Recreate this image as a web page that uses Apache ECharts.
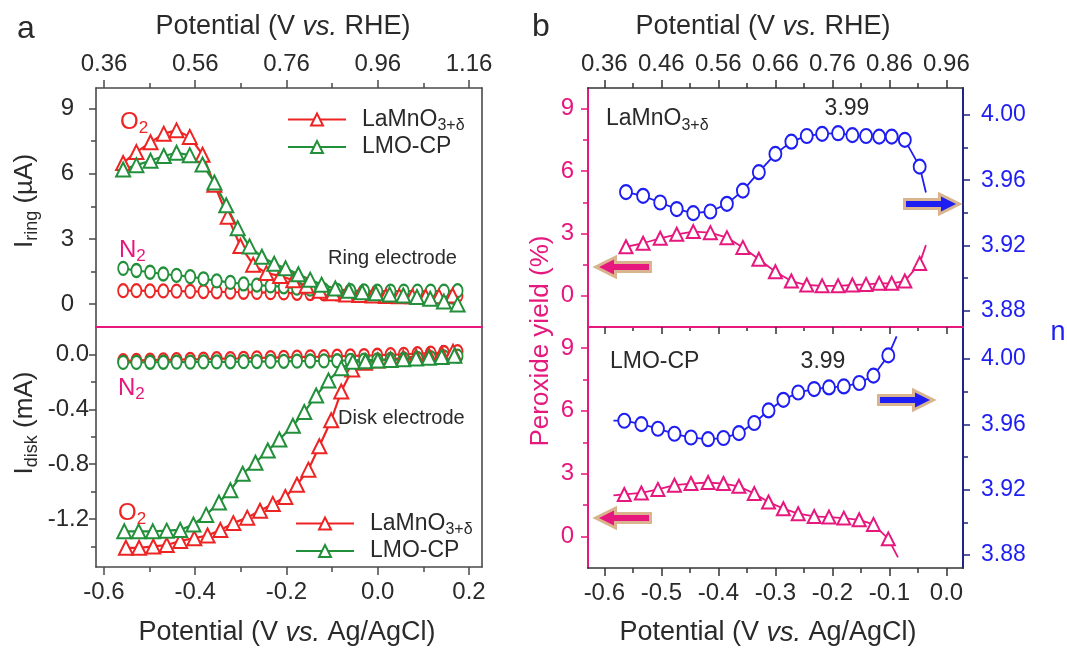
<!DOCTYPE html>
<html><head><meta charset="utf-8">
<script src="https://cdn.jsdelivr.net/npm/echarts@6/dist/echarts.min.js"></script>
<style>html,body{margin:0;padding:0;background:#fff}#c{width:1067px;height:650px}</style>
</head><body><div id="c"></div>
<script>
// ---------------- DATA (potential in V vs. Ag/AgCl) ----------------
// Panel a, ring electrode
const ringTriX_LMO = [-0.558,-0.529,-0.498,-0.469,-0.441,-0.412,-0.384,-0.358,-0.329,-0.301,-0.273,-0.244,-0.214,-0.185,-0.156,-0.127,-0.098,-0.069,-0.040,-0.011,0.018,0.047,0.076,0.105,0.134,0.164];
const ringO2_LMO   = [6.5,7.0,7.45,7.85,8.0,7.7,6.88,5.5,4.03,2.68,1.82,1.43,1.3,1.1,0.85,0.62,0.5,0.45,0.42,0.4,0.38,0.37,0.36,0.35,0.36,0.4];
const ringTriX_CP  = [-0.558,-0.529,-0.498,-0.469,-0.441,-0.412,-0.384,-0.358,-0.332,-0.307,-0.281,-0.254,-0.227,-0.202,-0.174,-0.148,-0.123,-0.093,-0.063,-0.034,-0.004,0.026,0.056,0.086,0.115,0.145,0.175];
const ringO2_CP    = [6.2,6.4,6.6,6.82,6.97,6.86,6.43,5.6,4.55,3.5,2.66,2.18,1.86,1.65,1.38,1.13,0.9,0.72,0.62,0.55,0.5,0.45,0.4,0.33,0.25,0.12,-0.02];
const lsvX         = [-0.558,-0.529,-0.499,-0.470,-0.441,-0.411,-0.382,-0.353,-0.323,-0.294,-0.265,-0.235,-0.206,-0.177,-0.148,-0.118,-0.089,-0.060,-0.030,-0.001,0.028,0.057,0.087,0.116,0.145,0.175];
const ringN2_LMO   = [0.62,0.62,0.61,0.61,0.60,0.59,0.58,0.57,0.56,0.55,0.54,0.53,0.52,0.50,0.49,0.48,0.47,0.46,0.45,0.44,0.43,0.42,0.41,0.41,0.40,0.40];
const ringN2_CP    = [1.65,1.55,1.47,1.39,1.33,1.27,1.17,1.07,1.0,0.93,0.88,0.84,0.8,0.74,0.69,0.66,0.63,0.62,0.61,0.6,0.6,0.6,0.6,0.6,0.6,0.62];
// Panel a, disk electrode
const diskTriX_LMO = [-0.552,-0.523,-0.492,-0.4625,-0.433,-0.402,-0.373,-0.345,-0.3165,-0.286,-0.258,-0.230,-0.2025,-0.177,-0.152,-0.128,-0.102,-0.080,-0.056,-0.028,0.0,0.028,0.056,0.084,0.112,0.140,0.165];
const diskO2_LMO   = [-1.41,-1.41,-1.40,-1.39,-1.36,-1.34,-1.32,-1.28,-1.23,-1.19,-1.14,-1.09,-1.04,-0.95,-0.84,-0.67,-0.48,-0.27,-0.11,-0.06,-0.045,-0.035,-0.025,-0.015,-0.005,0.005,0.02];
const diskTriX_CP  = [-0.5555,-0.524,-0.493,-0.4625,-0.433,-0.404,-0.376,-0.348,-0.323,-0.296,-0.268,-0.241,-0.2156,-0.186,-0.161,-0.135,-0.108,-0.080,-0.0546,-0.027,0.0,0.028,0.056,0.084,0.112,0.140,0.168];
const diskO2_CP    = [-1.29,-1.29,-1.29,-1.285,-1.28,-1.24,-1.17,-1.08,-0.99,-0.87,-0.79,-0.70,-0.62,-0.52,-0.42,-0.30,-0.19,-0.10,-0.054,-0.05,-0.045,-0.04,-0.035,-0.03,-0.025,-0.018,-0.01];
const diskN2_LMO   = [-0.046,-0.044,-0.042,-0.04,-0.038,-0.036,-0.034,-0.031,-0.03,-0.028,-0.025,-0.024,-0.022,-0.02,-0.018,-0.016,-0.013,-0.011,-0.008,-0.006,-0.002,0.001,0.006,0.01,0.014,0.02];
const diskN2_CP    = [-0.058,-0.058,-0.057,-0.057,-0.056,-0.056,-0.055,-0.055,-0.054,-0.053,-0.052,-0.051,-0.05,-0.049,-0.048,-0.047,-0.046,-0.044,-0.042,-0.04,-0.036,-0.032,-0.028,-0.024,-0.018,-0.012];
// Panel b, LaMnO3+δ (markers) + curve tail
const bX_LMO       = [-0.562,-0.532,-0.502,-0.473,-0.444,-0.414,-0.385,-0.357,-0.329,-0.300,-0.272,-0.245,-0.218,-0.190,-0.165,-0.141,-0.118,-0.096,-0.073,-0.047];
const perox_LMO    = [2.36,2.53,2.77,2.96,3.09,3.04,2.80,2.33,1.76,1.16,0.71,0.52,0.48,0.48,0.52,0.55,0.60,0.60,0.71,1.56];
const n_LMO        = [3.9527,3.9504,3.9463,3.9423,3.9398,3.9408,3.9455,3.9536,3.9649,3.9761,3.9836,3.9871,3.9884,3.9888,3.9876,3.9871,3.9867,3.9867,3.9847,3.9683];
const peroxTail_LMO = [-0.036, 2.44];
const nTail_LMO     = [-0.036, 3.9524];
// Panel b, LMO-CP
const bX_CP        = [-0.565,-0.535,-0.506,-0.477,-0.448,-0.418,-0.391,-0.364,-0.337,-0.312,-0.286,-0.260,-0.232,-0.206,-0.180,-0.153,-0.128,-0.102];
const perox_CP     = [2.01,2.08,2.25,2.45,2.53,2.58,2.53,2.40,2.05,1.65,1.33,1.09,0.96,0.93,0.88,0.80,0.58,-0.11];
const n_CP         = [3.9622,3.9601,3.9573,3.9542,3.9519,3.9509,3.9516,3.9546,3.9608,3.9685,3.9750,3.9795,3.9816,3.9826,3.9832,3.9853,3.9898,4.0022];
const peroxHead_CP = [-0.584, 1.97];
const peroxTail_CP = [-0.085, -0.99];
const nHead_CP     = [-0.584, 3.9623];
const nTail_CP     = [-0.0874, 4.0139];
// Tick values
const aXMajor = [-0.6,-0.4,-0.2,0.0,0.2];
const aXMinor = [-0.5,-0.3,-0.1,0.1];
const aRingMajor = [0,3,6,9];
const aRingMinor = [1.5,4.5,7.5];
const aDiskMajor = [0.0,-0.4,-0.8,-1.2];
const aDiskMinor = [-0.2,-0.6,-1.0,-1.4];
const bXMajor = [-0.6,-0.5,-0.4,-0.3,-0.2,-0.1,0.0];
const bXMinor = [-0.55,-0.45,-0.35,-0.25,-0.15,-0.05];
const bPMajor = [0,3,6,9];
const bPMinor = [1.5,4.5,7.5];
const bNMajor = [3.88,3.92,3.96,4.00];
const bNMinor = [3.90,3.94,3.98];
const RHE_OFFSET = 0.96;

// ---------------- STYLE ----------------
const FONT = 'Liberation Sans, Arial, Helvetica, sans-serif';
const RED = '#EE2424', GREEN = '#22903A', PINK = '#E6177D', BLUE = '#1E1EF2', NAVY = '#1E2585', GRAY = '#4a4a4a', TXT = '#2a2a2a';
const TAN = '#D9B48E';
const FS = 24;

function ax(grid, pos, o) {
  return {
    type: 'value', gridIndex: grid, position: pos, min: o.min, max: o.max, scale: true,
    axisLine: {show: !!o.line, onZero: false, lineStyle: {color: o.line || '#000', width: o.lw || 1.6}},
    axisTick: {show: !!o.ticks, inside: false, length: o.tl || 7, customValues: o.ticks, lineStyle: {color: o.tc || GRAY, width: 1.5}},
    axisLabel: {show: !!o.labels, customValues: o.labels, formatter: o.fmt, margin: o.margin || 8, color: o.lc || TXT, fontSize: o.fs || FS, fontFamily: FONT, showMinLabel: true, showMaxLabel: true},
    splitLine: {show: false}, minorTick: {show: false}, minorSplitLine: {show: false},
    axisPointer: {show: false}, silent: true, z: o.z || 3
  };
}
const fRHE = v => (v + RHE_OFFSET).toFixed(2);
const f1 = v => (Math.abs(v) < 1e-9 ? 0 : v).toFixed(1);
const f2 = v => v.toFixed(2);
const f0 = v => String(Math.round(v));

const A_X = {min: -0.6175, max: 0.2285};
const B_X = {min: -0.6286, max: 0.029};
const RING_Y = {min: -1.05, max: 9.95};
const DISK_Y = {min: -1.55, max: 0.2};
const BP_Y = {min: -1.5, max: 10};
const BN_TOP = {min: 3.87, max: 4.0165};
const BN_BOT = {min: 3.872, max: 4.0196};

const xAxis = [
  // g0 (a-top)
  ax(0, 'top', {...A_X, line: GRAY, ticks: aXMajor, tl: 8, labels: aXMajor, fmt: fRHE, margin: 12}),        //0
  ax(0, 'top', {...A_X, ticks: aXMinor, tl: 5}),                                                             //1
  ax(0, 'bottom', {...A_X, line: PINK, lw: 2, z: 6}),                                                        //2
  // g1 (a-bottom)
  ax(1, 'bottom', {...A_X, line: GRAY, ticks: aXMajor, tl: 8, labels: aXMajor, fmt: f1, margin: 13}),       //3
  ax(1, 'bottom', {...A_X, ticks: aXMinor, tl: 5}),                                                          //4
  // g2 (b-top)
  ax(2, 'top', {...B_X, line: '#333', ticks: bXMajor, tc: '#333', tl: 8, labels: bXMajor, fmt: fRHE, margin: 12}), //5
  ax(2, 'top', {...B_X, ticks: bXMinor, tc: '#333', tl: 5}),                                                 //6
  ax(2, 'bottom', {...B_X, line: PINK, lw: 2, ticks: bXMajor, tc: '#333', tl: 7, z: 6}),                     //7
  ax(2, 'bottom', {...B_X, ticks: bXMinor, tc: '#333', tl: 4}),                                              //8
  // g3 (b-bottom)
  ax(3, 'bottom', {...B_X, line: '#333', ticks: bXMajor, tc: '#333', tl: 8, labels: bXMajor, fmt: f1, margin: 13}), //9
  ax(3, 'bottom', {...B_X, ticks: bXMinor, tc: '#333', tl: 5})                                               //10
];
const yAxis = [
  ax(0, 'left', {...RING_Y, line: GRAY, ticks: aRingMajor, tl: 7, labels: aRingMajor, fmt: f0, margin: 22}), //0
  ax(0, 'left', {...RING_Y, ticks: aRingMinor, tl: 5}),                                                      //1
  ax(0, 'right', {...RING_Y, line: GRAY}),                                                                   //2
  ax(1, 'left', {...DISK_Y, line: GRAY, ticks: aDiskMajor, tl: 7, labels: aDiskMajor, fmt: f1, margin: 7}),  //3
  ax(1, 'left', {...DISK_Y, ticks: aDiskMinor, tl: 5}),                                                      //4
  ax(1, 'right', {...DISK_Y, line: GRAY}),                                                                   //5
  ax(2, 'left', {...BP_Y, line: PINK, lw: 2, ticks: bPMajor, tc: PINK, tl: 7, labels: bPMajor, fmt: f0, lc: PINK, margin: 14}), //6
  ax(2, 'left', {...BP_Y, ticks: bPMinor, tc: PINK, tl: 5}),                                                 //7
  ax(2, 'right', {...BN_TOP, line: NAVY, lw: 2, ticks: bNMajor, tc: NAVY, tl: 7, labels: bNMajor, fmt: f2, lc: BLUE, margin: 18, fs: 23}), //8
  ax(2, 'right', {...BN_TOP, ticks: bNMinor, tc: NAVY, tl: 5}),                                              //9
  ax(3, 'left', {...BP_Y, line: PINK, lw: 2, ticks: bPMajor, tc: PINK, tl: 7, labels: bPMajor, fmt: f0, lc: PINK, margin: 14}), //10
  ax(3, 'left', {...BP_Y, ticks: bPMinor, tc: PINK, tl: 5}),                                                 //11
  ax(3, 'right', {...BN_BOT, line: NAVY, lw: 2, ticks: bNMajor, tc: NAVY, tl: 7, labels: bNMajor, fmt: f2, lc: BLUE, margin: 18, fs: 23}), //12
  ax(3, 'right', {...BN_BOT, ticks: bNMinor, tc: NAVY, tl: 5})                                               //13
];

function pairs(xs, ys) { return xs.map((x, i) => [x, ys[i]]); }
function plain(pt) { return {value: pt, symbol: 'none'}; }
function ser(name, xi, yi, data, color, symbol, size, lw) {
  return {
    type: 'line', name, xAxisIndex: xi, yAxisIndex: yi, data,
    symbol, symbolSize: size, showSymbol: true, clip: true,
    lineStyle: {color, width: lw || 2.2}, itemStyle: {color, borderColor: color, borderWidth: 2.2},
    emphasis: {disabled: true}, silent: true, z: 4
  };
}
const LMO = 'LaMnO3+δ', CP = 'LMO-CP';
const TRI = 14, CIRC = [10, 13];
const series = [
  // a ring
  ser('ringN2_LMO', 0, 0, pairs(lsvX, ringN2_LMO), RED, 'emptyCircle', CIRC),
  ser('ringN2_CP', 0, 0, pairs(lsvX, ringN2_CP), GREEN, 'emptyCircle', CIRC),
  ser(LMO, 0, 0, pairs(ringTriX_LMO, ringO2_LMO), RED, 'emptyTriangle', TRI),
  ser(CP, 0, 0, pairs(ringTriX_CP, ringO2_CP), GREEN, 'emptyTriangle', TRI),
  // a disk
  ser('diskN2_LMO', 3, 3, pairs(lsvX, diskN2_LMO), RED, 'emptyCircle', CIRC),
  ser('diskN2_CP', 3, 3, pairs(lsvX, diskN2_CP), GREEN, 'emptyCircle', CIRC),
  ser(LMO, 3, 3, pairs(diskTriX_LMO, diskO2_LMO), RED, 'emptyTriangle', TRI),
  ser(CP, 3, 3, pairs(diskTriX_CP, diskO2_CP), GREEN, 'emptyTriangle', TRI),
  // b top
  ser('perox_LMO', 5, 6, pairs(bX_LMO, perox_LMO).concat([plain(peroxTail_LMO)]), PINK, 'emptyTriangle', 13, 1.8),
  ser('n_LMO', 5, 8, pairs(bX_LMO, n_LMO).concat([plain(nTail_LMO)]), BLUE, 'emptyCircle', [12, 14], 1.8),
  // b bottom
  ser('perox_CP', 9, 10, [plain(peroxHead_CP)].concat(pairs(bX_CP, perox_CP), [plain(peroxTail_CP)]), PINK, 'emptyTriangle', 13, 1.8),
  ser('n_CP', 9, 12, [plain(nHead_CP)].concat(pairs(bX_CP, n_CP), [plain(nTail_CP)]), BLUE, 'emptyCircle', [12, 14], 1.8)
];

function legendFmt(name) { return name === LMO ? '{s|}{a|LaMnO}{b|3+δ}' : '{s|}{a|LMO-CP}'; }
const legendRich = {
  s: {width: 11},
  a: {fontSize: 23, fontFamily: FONT, color: TXT, lineHeight: 28},
  b: {fontSize: 16, fontFamily: FONT, color: TXT, verticalAlign: 'bottom', lineHeight: 21}
};
function legend(left, top) {
  return {
    orient: 'vertical', left, top, itemWidth: 58, itemHeight: 15, itemGap: 2,
    data: [LMO, CP], formatter: legendFmt, selectedMode: false,
    textStyle: {rich: legendRich, fontFamily: FONT, fontSize: 23, color: TXT}
  };
}

// ---------------- ANNOTATIONS ----------------
function txt(x, y, text, opt) {
  opt = opt || {};
  return {
    type: 'text', x, y, rotation: opt.rot || 0, z: 50, silent: true,
    style: {
      text, fill: opt.color || TXT, fontSize: opt.fs || FS, fontFamily: FONT,
      align: opt.align || 'center', verticalAlign: 'middle', rich: opt.rich
    }
  };
}
function richSub(big, small, color) {
  return {
    b: {fontSize: big, fontFamily: FONT, fill: color, color, lineHeight: big + 6},
    s: {fontSize: small, fontFamily: FONT, fill: color, color, verticalAlign: 'bottom', lineHeight: small + 2},
    i: {fontSize: big, fontFamily: FONT, fontStyle: 'italic', fill: color, color, lineHeight: big + 6}
  };
}
function arrow(cx, cy, dir, color) {
  const L = 50, sh = 3, hl = 15, hh = 7.5, x0 = -L / 2;
  let pts = [[x0, -sh], [x0 + L - hl, -sh], [x0 + L - hl, -hh], [x0 + L, 0], [x0 + L - hl, hh], [x0 + L - hl, sh], [x0, sh]];
  pts = pts.map(p => [cx + dir * p[0], cy + p[1]]);
  return {type: 'polygon', z: 50, silent: true, shape: {points: pts},
    style: {fill: color, stroke: TAN, lineWidth: 6, lineJoin: 'miter', strokeFirst: true}};
}
const TITLE_FS = 27;
const titleRich = richSub(TITLE_FS, 17, TXT);
const graphic = [
  txt(26, 29, 'a', {fs: 32}),
  txt(541, 27, 'b', {fs: 32}),
  txt(283, 27, '{b|Potential (V }{i|vs.}{b| RHE)}', {rich: titleRich}),
  txt(763, 27, '{b|Potential (V }{i|vs.}{b| RHE)}', {rich: titleRich}),
  txt(287, 633, '{b|Potential (V }{i|vs.}{b| Ag/AgCl)}', {rich: titleRich}),
  txt(768, 633, '{b|Potential (V }{i|vs.}{b| Ag/AgCl)}', {rich: titleRich}),
  txt(25, 201, '{b|I}{s|ring}{b| (µA)}', {rot: Math.PI / 2, rich: richSub(26, 18, TXT)}),
  txt(25, 423, '{b|I}{s|disk}{b| (mA)}', {rot: Math.PI / 2, rich: richSub(26, 18, TXT)}),
  txt(541, 341, 'Peroxide yield (%)', {rot: Math.PI / 2, fs: 26, color: PINK}),
  txt(1058, 333, 'n', {fs: 27, color: BLUE}),
  txt(120, 122, '{b|O}{s|2}', {align: 'left', rich: richSub(24, 17, RED)}),
  txt(119, 250, '{b|N}{s|2}', {align: 'left', rich: richSub(24, 17, PINK)}),
  txt(328, 258, 'Ring electrode', {align: 'left', fs: 20}),
  txt(118, 388, '{b|N}{s|2}', {align: 'left', rich: richSub(24, 17, PINK)}),
  txt(118, 513, '{b|O}{s|2}', {align: 'left', rich: richSub(24, 17, RED)}),
  txt(338, 418, 'Disk electrode', {align: 'left', fs: 20}),
  txt(606, 119, '{b|LaMnO}{s|3+δ}', {align: 'left', rich: richSub(23, 16, TXT)}),
  txt(847, 109, '3.99', {fs: 23}),
  txt(610, 362, 'LMO-CP', {align: 'left', fs: 23}),
  txt(823, 362, '3.99', {fs: 23}),
  arrow(624, 267, -1, PINK),
  arrow(931, 204, 1, BLUE),
  arrow(624, 518, -1, PINK),
  arrow(905, 400, 1, BLUE)
];

const chart = echarts.init(document.getElementById('c'), null, {renderer: 'canvas'});
chart.setOption({
  animation: false,
  backgroundColor: '#fff',
  textStyle: {fontFamily: FONT},
  grid: [
    {left: 96, top: 88, width: 386, height: 239, outerBoundsMode: 'none'},
    {left: 96, top: 327, width: 386, height: 240, outerBoundsMode: 'none'},
    {left: 588, top: 88, width: 375, height: 239, outerBoundsMode: 'none'},
    {left: 588, top: 327, width: 375, height: 241, outerBoundsMode: 'none'}
  ],
  xAxis, yAxis,
  legend: [legend(282, 103), legend(290, 507)],
  series,
  graphic
});
</script></body></html>
